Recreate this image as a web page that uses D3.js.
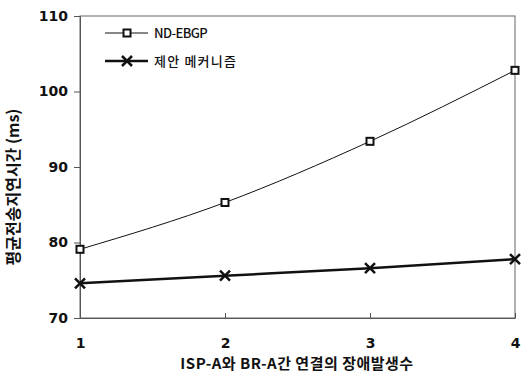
<!DOCTYPE html>
<html>
<head>
<meta charset="utf-8">
<script src="https://cdn.jsdelivr.net/npm/d3@7"></script>
<style>
  body { margin: 0; background: #fff; }
  #chart { width: 523px; height: 374px; }
  .tick text { font-family: "DejaVu Sans", Verdana, sans-serif; font-weight: bold; font-size: 14px; fill: #111; }
  .axisTitle { font-family: "Noto Sans CJK KR", sans-serif; font-weight: bold; fill: #111; }
  .legendText { font-family: "Noto Sans CJK KR", "Liberation Sans", sans-serif; font-size: 13px; font-weight: 500; fill: #111; }
</style>
</head>
<body>
<div id="chart"></div>
<script>
// Data
var categories = [1, 2, 3, 4];
var ndEbgp = [79.1, 85.3, 93.4, 102.8];
var proposed = [74.6, 75.6, 76.6, 77.8];
var yTicks = [70, 80, 90, 100, 110];
var seriesNames = ["ND-EBGP", "제안 메커니즘"];

var width = 523, height = 374;
var margin = {top: 16, right: 8, bottom: 56, left: 80};

var svg = d3.select("#chart").append("svg")
    .attr("width", width)
    .attr("height", height);

var x = d3.scaleLinear().domain([1, 4]).range([margin.left, width - margin.right]);
var y = d3.scaleLinear().domain([70, 110]).range([height - margin.bottom, margin.top]);

// Frame
svg.append("rect")
    .attr("x", x(1)).attr("y", y(110))
    .attr("width", x(4) - x(1)).attr("height", y(70) - y(110))
    .attr("fill", "none").attr("stroke", "#666").attr("stroke-width", 1);

// Axes
var yAxis = d3.axisLeft(y).tickValues(yTicks).tickSize(6).tickPadding(6);
svg.append("g")
    .attr("transform", "translate(" + x(1) + ",0)")
    .call(yAxis)
    .call(function(g) { g.select(".domain").attr("stroke", "#555"); g.selectAll("line").attr("stroke", "#555"); });

var xAxis = d3.axisBottom(x).tickValues(categories).tickFormat(d3.format("d")).tickSizeInner(-5).tickSizeOuter(0).tickPadding(20);
svg.append("g")
    .attr("transform", "translate(0," + y(70) + ")")
    .call(xAxis)
    .call(function(g) { g.select(".domain").attr("stroke", "#555"); g.selectAll("line").attr("stroke", "#555"); });

// Axis titles
svg.append("text")
    .attr("class", "axisTitle")
    .attr("font-size", 16)
    .attr("transform", "translate(19,187) rotate(-90)")
    .attr("text-anchor", "middle")
    .text("평균전송지연시간 (ms)");

svg.append("text")
    .attr("class", "axisTitle")
    .attr("font-size", 15)
    .attr("x", 297)
    .attr("y", 369)
    .attr("text-anchor", "middle")
    .attr("letter-spacing", 0.5)
    .text("ISP-A와 BR-A간 연결의 장애발생수");

// Lines
var lineSmooth = d3.line()
    .x(function(d, i) { return x(categories[i]); })
    .y(function(d) { return y(d); })
    .curve(d3.curveMonotoneX);

svg.append("path")
    .datum(ndEbgp)
    .attr("d", lineSmooth)
    .attr("fill", "none").attr("stroke", "#111").attr("stroke-width", 1);

svg.append("path")
    .datum(proposed)
    .attr("d", lineSmooth)
    .attr("fill", "none").attr("stroke", "#111").attr("stroke-width", 2.5);

// Markers
function square(g, cx, cy) {
    g.append("rect")
        .attr("x", cx - 3.5).attr("y", cy - 3.5)
        .attr("width", 7).attr("height", 7)
        .attr("fill", "#fff").attr("stroke", "#111").attr("stroke-width", 2);
}
function cross(g, cx, cy) {
    var s = 5;
    g.append("path")
        .attr("d", "M" + (cx - s) + "," + (cy - s) + "L" + (cx + s) + "," + (cy + s) +
                   "M" + (cx - s) + "," + (cy + s) + "L" + (cx + s) + "," + (cy - s))
        .attr("stroke", "#111").attr("stroke-width", 2.5);
}

var marks = svg.append("g");
ndEbgp.forEach(function(v, i) { square(marks, x(categories[i]), y(v)); });
proposed.forEach(function(v, i) { cross(marks, x(categories[i]), y(v)); });

// Legend
var legend = svg.append("g");
var lx0 = 105, lx1 = 148, lmid = 127;
[[33, 1, square, -0.6], [61, 2.5, cross, 1.2]].forEach(function(r, i) {
    legend.append("line")
        .attr("x1", lx0).attr("x2", lx1).attr("y1", r[0]).attr("y2", r[0])
        .attr("stroke", "#111").attr("stroke-width", r[1]);
    r[2](legend, lmid, r[0]);
    legend.append("text")
        .attr("class", "legendText")
        .attr("x", 154).attr("y", r[0] + 5)
        .attr("letter-spacing", r[3])
        .text(seriesNames[i]);
});
</script>
</body>
</html>
